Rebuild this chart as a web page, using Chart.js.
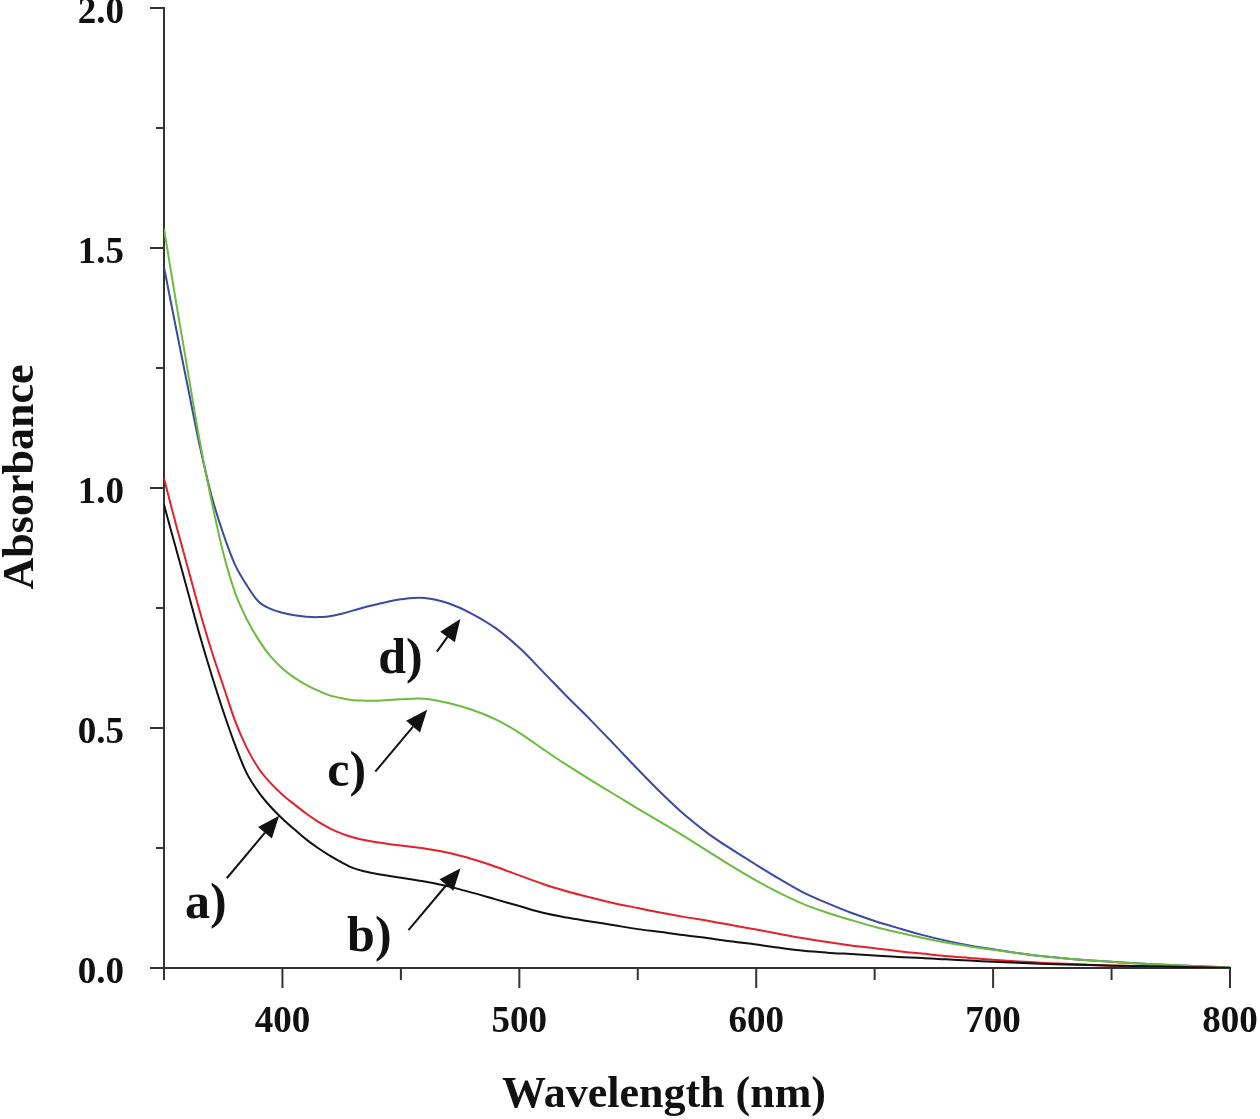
<!DOCTYPE html>
<html>
<head>
<meta charset="utf-8">
<script src="https://cdn.jsdelivr.net/npm/chart.js@4.4.0/dist/chart.umd.min.js"></script>
<style>
  html, body { margin: 0; padding: 0; background: #fff; }
</style>
</head>
<body>
<canvas id="chart" width="1260" height="1119"></canvas>
<script>
// ----------------------
// Data
// ----------------------
const wavelengths = [350, 355, 360, 365, 370, 375, 380, 385, 390, 395, 400, 405, 410, 415, 420, 425, 430, 435, 440, 450, 460, 470, 480, 490, 500, 510, 520, 530, 540, 550, 560, 570, 580, 590, 600, 610, 620, 630, 640, 650, 660, 670, 680, 690, 700, 720, 740, 760, 780, 800];

const absA = [0.965, 0.875, 0.785, 0.695, 0.612, 0.535, 0.465, 0.405, 0.366, 0.336, 0.311, 0.289, 0.268, 0.250, 0.234, 0.220, 0.208, 0.201, 0.196, 0.188, 0.180, 0.170, 0.157, 0.143, 0.129, 0.115, 0.105, 0.097, 0.089, 0.081, 0.075, 0.068, 0.062, 0.055, 0.049, 0.042, 0.036, 0.032, 0.029, 0.026, 0.023, 0.021, 0.018, 0.0155, 0.013, 0.009, 0.006, 0.004, 0.002, 0.000];
const absB = [1.02, 0.925, 0.835, 0.745, 0.662, 0.588, 0.515, 0.458, 0.415, 0.385, 0.361, 0.341, 0.322, 0.305, 0.291, 0.280, 0.272, 0.266, 0.262, 0.255, 0.249, 0.240, 0.227, 0.211, 0.193, 0.175, 0.160, 0.147, 0.135, 0.125, 0.115, 0.106, 0.098, 0.089, 0.080, 0.071, 0.062, 0.054, 0.047, 0.041, 0.035, 0.030, 0.025, 0.021, 0.017, 0.011, 0.007, 0.004, 0.002, 0.000];
const absC = [1.54, 1.39, 1.245, 1.10, 0.975, 0.865, 0.782, 0.726, 0.683, 0.649, 0.624, 0.605, 0.590, 0.578, 0.568, 0.562, 0.558, 0.557, 0.557, 0.560, 0.561, 0.552, 0.538, 0.518, 0.490, 0.456, 0.423, 0.392, 0.362, 0.332, 0.303, 0.273, 0.242, 0.211, 0.182, 0.156, 0.133, 0.115, 0.100, 0.086, 0.074, 0.063, 0.053, 0.045, 0.038, 0.025, 0.016, 0.010, 0.005, 0.001];
const absD = [1.46, 1.335, 1.212, 1.09, 0.985, 0.905, 0.840, 0.797, 0.763, 0.748, 0.740, 0.735, 0.732, 0.731, 0.733, 0.738, 0.745, 0.752, 0.758, 0.768, 0.771, 0.760, 0.738, 0.708, 0.667, 0.617, 0.566, 0.517, 0.466, 0.414, 0.364, 0.318, 0.279, 0.246, 0.215, 0.185, 0.157, 0.135, 0.115, 0.098, 0.083, 0.069, 0.057, 0.047, 0.039, 0.025, 0.016, 0.010, 0.005, 0.001];

const seriesNames = ["a)", "b)", "c)", "d)"];
const seriesColors = ["#111111", "#e5202a", "#6cbb3e", "#3b49a6"];

// labels and arrows, in data units (wavelength, absorbance)
const noteText = [[358.9, 0.104], [427.3, 0.035], [418.9, 0.379], [440.4, 0.615]];
const arrowFrom = [[376.5, 0.187], [453.2, 0.079], [439.2, 0.409], [465.2, 0.659]];
const arrowTo = [[398.6, 0.317], [475.2, 0.208], [461.1, 0.538], [475.1, 0.727]];

const axisColor = "#333";
const serif = "'Liberation Serif', 'Times New Roman', serif";

function toPoints(values) {
    return wavelengths.map((w, i) => ({ x: w, y: values[i] }));
}

// ----------------------
// Ticks, axis titles, annotations
// ----------------------
const decorations = {
    id: "decorations",
    afterDraw(chart) {
        const ctx = chart.ctx;
        const xs = chart.scales.x;
        const ys = chart.scales.y;
        const area = chart.chartArea;

        ctx.save();
        ctx.strokeStyle = axisColor;
        ctx.lineWidth = 2;
        ctx.beginPath();
        for (let v = 350; v <= 800; v += 50) {
            const px = xs.getPixelForValue(v);
            const len = v % 100 === 0 ? 20 : 12;
            ctx.moveTo(px, area.bottom);
            ctx.lineTo(px, area.bottom + len);
        }
        for (let v = 0; v <= 2.0001; v += 0.25) {
            const py = ys.getPixelForValue(v);
            const len = Math.abs(v * 2 - Math.round(v * 2)) < 0.01 ? 14 : 8;
            ctx.moveTo(area.left, py);
            ctx.lineTo(area.left - len, py);
        }
        ctx.stroke();

        // axis titles
        ctx.fillStyle = "#111";
        ctx.font = "bold 44px " + serif;
        ctx.textAlign = "center";
        ctx.textBaseline = "middle";
        ctx.fillText("Wavelength (nm)", 664, 1096);
        ctx.save();
        ctx.translate(22, 477);
        ctx.rotate(-Math.PI / 2);
        ctx.fillText("Absorbance", 0, 0);
        ctx.restore();

        // curve labels
        ctx.font = "bold 50px " + serif;
        ctx.textAlign = "left";
        ctx.textBaseline = "alphabetic";
        noteText.forEach((p, i) => {
            ctx.fillText(seriesNames[i], xs.getPixelForValue(p[0]), ys.getPixelForValue(p[1]));
        });

        // arrows
        ctx.strokeStyle = "#111";
        ctx.lineWidth = 2;
        arrowFrom.forEach((p, i) => {
            const x0 = xs.getPixelForValue(p[0]);
            const y0 = ys.getPixelForValue(p[1]);
            const x1 = xs.getPixelForValue(arrowTo[i][0]);
            const y1 = ys.getPixelForValue(arrowTo[i][1]);
            const ang = Math.atan2(y1 - y0, x1 - x0);
            const head = 22, half = 9;
            const bx = x1 - head * Math.cos(ang);
            const by = y1 - head * Math.sin(ang);
            ctx.beginPath();
            ctx.moveTo(x0, y0);
            ctx.lineTo(bx, by);
            ctx.stroke();
            ctx.beginPath();
            ctx.moveTo(x1, y1);
            ctx.lineTo(bx + half * Math.sin(ang), by - half * Math.cos(ang));
            ctx.lineTo(bx - half * Math.sin(ang), by + half * Math.cos(ang));
            ctx.closePath();
            ctx.fill();
        });
        ctx.restore();
    }
};

// ----------------------
// Chart
// ----------------------
const chartCanvas = document.getElementById("chart").getContext("2d");

const myChart = new Chart(chartCanvas, {
    type: "line",
    data: {
        datasets: [absA, absB, absC, absD].map((vals, i) => ({
            label: seriesNames[i],
            data: toPoints(vals),
            borderColor: seriesColors[i],
            borderWidth: 2,
            pointRadius: 0,
            fill: false,
            tension: 0.35
        }))
    },
    options: {
        responsive: false,
        animation: false,
        devicePixelRatio: 1,
        layout: { padding: { top: 8, right: 30, left: 0, bottom: 0 } },
        plugins: {
            legend: { display: false },
            tooltip: { enabled: false }
        },
        scales: {
            x: {
                type: "linear",
                min: 350,
                max: 800,
                grid: { display: false },
                border: { display: true, color: axisColor, width: 2 },
                ticks: {
                    stepSize: 50,
                    autoSkip: false,
                    maxRotation: 0,
                    padding: 24,
                    color: "#111",
                    font: { family: serif, size: 37, weight: "bold" },
                    callback: (v) => (v % 100 === 0 ? String(v) : "")
                },
                afterFit: (scale) => {
                    scale.height = 151;
                    scale.paddingLeft = 0;
                    scale.paddingRight = 0;
                }
            },
            y: {
                min: 0,
                max: 2.0,
                grid: { display: false },
                border: { display: true, color: axisColor, width: 2 },
                ticks: {
                    stepSize: 0.25,
                    autoSkip: false,
                    padding: 32,
                    labelOffset: 5,
                    color: "#111",
                    font: { family: serif, size: 37, weight: "bold" },
                    callback: (v) => (Math.abs(v * 2 - Math.round(v * 2)) < 0.01 ? v.toFixed(1) : "")
                },
                afterFit: (scale) => {
                    scale.width = 164;
                    scale.paddingTop = 0;
                    scale.paddingBottom = 0;
                }
            }
        }
    },
    plugins: [decorations]
});
</script>
</body>
</html>
